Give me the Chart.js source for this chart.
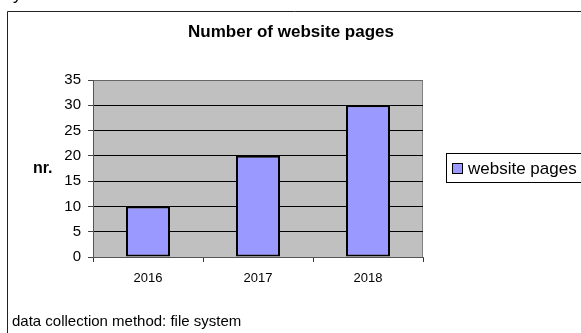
<!DOCTYPE html>
<html>
<head>
<meta charset="utf-8">
<script src="https://cdn.jsdelivr.net/npm/chart.js@4/dist/chart.umd.min.js"></script>
<style>
  html, body { margin: 0; padding: 0; background: #fff; }
  #wrap { position: relative; width: 581px; height: 333px; }
</style>
</head>
<body>
<div id="wrap"><canvas id="c" width="581" height="333"></canvas></div>
<script>
// Chart data
const years = ['2016', '2017', '2018'];
const pageCounts = [10, 20, 30];
const seriesName = 'website pages';
const chartTitle = 'Number of website pages';
const yAxisLabel = 'nr.';
const footnote = 'data collection method: file system';
const yMax = 35;
const yStep = 5;

const FONT = '"Liberation Sans", Arial, sans-serif';

// Frame, plot background, headings and legend drawn around the bars
const decorations = {
  id: 'decorations',
  beforeDraw(chart) {
    const { ctx, chartArea: a } = chart;
    ctx.save();
    ctx.fillStyle = '#fff';
    ctx.fillRect(0, 0, chart.width, chart.height);
    // outer frame (top and left edges)
    ctx.strokeStyle = '#222';
    ctx.lineWidth = 1;
    ctx.beginPath();
    ctx.moveTo(7.5, chart.height);
    ctx.lineTo(7.5, 11.5);
    ctx.lineTo(chart.width, 11.5);
    ctx.stroke();
    // plot area
    ctx.fillStyle = '#c0c0c0';
    ctx.fillRect(a.left, a.top, a.right - a.left, a.bottom - a.top);
    ctx.strokeStyle = '#808080';
    ctx.strokeRect(a.left + 0.5, a.top + 0.5, a.right - a.left - 1, a.bottom - a.top);
    // cut-off letter above the frame
    ctx.fillStyle = '#000';
    ctx.font = '17px ' + FONT;
    ctx.textBaseline = 'alphabetic';
    ctx.fillText('y', 13, 0);
    ctx.restore();
  },
  afterDraw(chart) {
    const { ctx } = chart;
    ctx.save();
    ctx.fillStyle = '#000';
    // title
    ctx.font = 'bold 17px ' + FONT;
    ctx.textAlign = 'center';
    ctx.textBaseline = 'middle';
    ctx.fillText(chartTitle, 291, 32);
    // axis label
    ctx.font = 'bold 16px ' + FONT;
    ctx.textAlign = 'left';
    ctx.fillText(yAxisLabel, 33, 169);
    // footnote
    ctx.font = '15px ' + FONT;
    ctx.fillText(footnote, 12, 322);
    // legend
    const lx = 446, ly = 153, lw = 140, lh = 29;
    ctx.strokeStyle = '#000';
    ctx.lineWidth = 1;
    ctx.strokeRect(lx + 0.5, ly + 0.5, lw, lh);
    const ds = chart.data.datasets[0];
    ctx.fillStyle = ds.backgroundColor;
    ctx.fillRect(453, 164, 9, 9);
    ctx.strokeRect(452.5, 163.5, 10, 10);
    ctx.fillStyle = '#000';
    ctx.font = '17px ' + FONT;
    ctx.fillText(ds.label, 468, 169);
    ctx.restore();
  }
};

new Chart(document.getElementById('c'), {
  type: 'bar',
  data: {
    labels: years,
    datasets: [{
      label: seriesName,
      data: pageCounts,
      backgroundColor: '#9999ff',
      borderColor: '#000',
      borderWidth: 2,
      borderSkipped: false,
      categoryPercentage: 0.8,
      barPercentage: 0.5
    }]
  },
  options: {
    responsive: false,
    animation: false,
    devicePixelRatio: 1,
    layout: { padding: { left: 0, top: 80, right: 158, bottom: 0 } },
    plugins: { legend: { display: false }, title: { display: false }, tooltip: { enabled: false } },
    scales: {
      x: {
        afterFit: s => { s.height = 76; },
        grid: { offset: true, drawOnChartArea: false, drawTicks: true, tickLength: 5, color: '#333' },
        border: { color: '#555', width: 1 },
        ticks: { color: '#000', font: { family: FONT, size: 13 }, padding: 9 }
      },
      y: {
        min: 0,
        max: yMax,
        afterFit: s => { s.width = 93; },
        grid: {
          drawTicks: true,
          tickLength: 5,
          color: ctx => (ctx.tick && (ctx.tick.value === 0 || ctx.tick.value === yMax)) ? '#666' : '#000',
          tickColor: '#444'
        },
        border: { color: '#555', width: 1 },
        ticks: { stepSize: yStep, color: '#000', font: { family: FONT, size: 15 }, padding: 7 }
      }
    }
  },
  plugins: [decorations]
});
</script>
</body>
</html>
